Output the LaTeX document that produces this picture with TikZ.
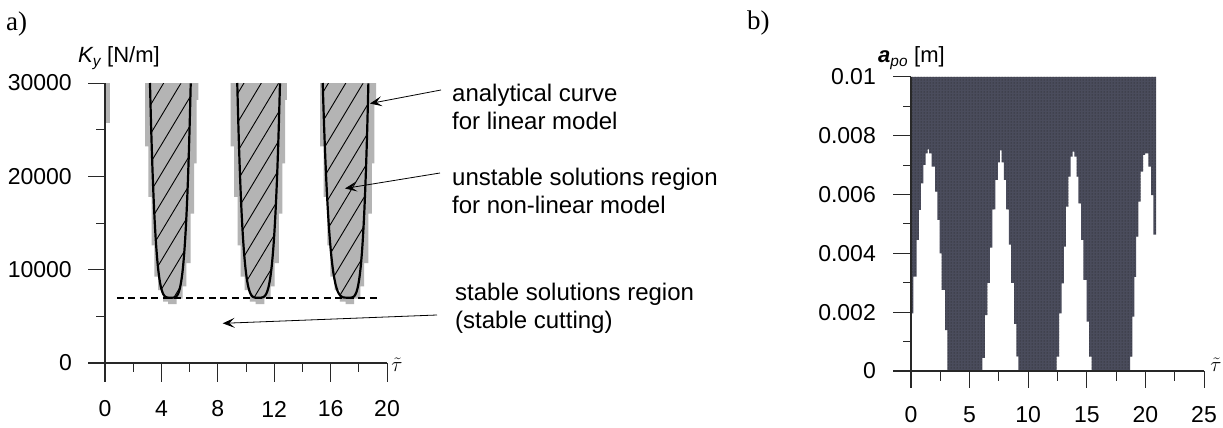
\documentclass[tikz,border=0pt]{standalone}
\usepackage{fontspec}
\setmainfont{Liberation Sans}
\newfontfamily\panelfont{Liberation Serif}
\usetikzlibrary{arrows.meta, patterns, calc}
\definecolor{LobeGrey}{RGB}{180,180,180}
\definecolor{ZoneDark}{RGB}{74,76,92}
\definecolor{DotBlack}{RGB}{30,30,28}
\definecolor{AxisGrey}{RGB}{40,40,40}
\tikzset{
  >=latex,
  % axes
  axline/.style={AxisGrey,line width=1.1pt},
  axtick/.style={AxisGrey,line width=1pt},
  tick label/.style={inner sep=0pt,font=\fontsize{23}{25}\selectfont},
  axis name/.style={inner sep=0pt,anchor=base west,font=\fontsize{22}{24}\selectfont},
  delay name/.style={inner sep=0pt,font=\fontsize{22}{24}\selectfont},
  panel tag/.style={inner sep=0pt,anchor=west,font=\panelfont\fontsize{27}{29}\selectfont},
  % stability chart
  lobe/.style={fill=LobeGrey},
  boundary/.style={black,line width=2.2pt,line join=round},
  hatch/.style={black,line width=0.9pt},
  stab limit/.style={black,line width=2pt,dash pattern=on 7pt off 4.5pt},
  % annotations
  note/.style={inner sep=0pt,align=left,anchor=north west,font=\fontsize{24}{28.3}\selectfont},
  pointer/.style={-{Stealth[length=12pt,width=10pt,inset=5.5pt]},line width=0.8pt}
}
% stepped grey zone round one lobe: vertex, left and right half width
\newcommand{\greylobe}[3]{%
  \fill[lobe] ({#1-#2},30) |- ({#1-0.875*#2},23.2) |- ({#1-0.745*#2},17.8)
    |- ({#1-0.64*#2},12.6) |- ({#1-0.49*#2},9.25) |- ({#1-0.30*#2},7.8)
    |- ({#1-0.10*#2},6.57) |- ({#1+0.21*#3},6.3) |- ({#1+0.43*#3},6.9)
    |- ({#1+0.57*#3},8.2) |- ({#1+0.72*#3},10.7) |- ({#1+0.85*#3},16.0)
    |- ({#1+0.94*#3},21.4) |- ({#1+#3},28.2) -- ({#1+#3},30) -- cycle;}
% analytical lobe with hatching: vertex, half widths, first hatch offset
\newcommand{\unstablelobe}[4]{%
  \begin{scope}
    \clip plot[domain=-1:1,samples=81,smooth]
      ({#1+\x*(#2*(\x<0)+#3*(1-(\x<0)))},{7+23*\x*\x*\x*\x}) -- cycle;
    \foreach \c in {0,...,11}
      \draw[hatch] ({#1-3},{#4+3.1*\c}) -- ++(6,15.1);
  \end{scope}
  \draw[boundary] plot[domain=-1:1,samples=81,smooth]
    ({#1+\x*(#2*(\x<0)+#3*(1-(\x<0)))},{7+23*\x*\x*\x*\x});}

\begin{document}
\begin{tikzpicture}[x=1pt,y=1pt]
  \useasboundingbox (0,0) rectangle (1223,428);
  \fill[white] (0,0) rectangle (1223,428);

  % a) stiffness against delay
  \node[panel tag] (tagA) at (6,404) {a)};
  \node[axis name] (kylab) at (78,365) {{\itshape K\textsubscript{y}} [N/m]};
  \node[delay name] (taua) at (397,63) {$\tilde{\tau}$};
  \begin{scope}[shift={(105,65)},x=14.1pt,y=9.333pt]
    \fill[LobeGrey] (0.07,25.7) rectangle (0.35,30);
    \greylobe{4.66}{1.82}{1.96}
    \greylobe{10.87}{1.96}{2.02}
    \greylobe{17.26}{2.0}{1.96}
    \unstablelobe{4.66}{1.47}{1.42}{-4.2}
    \unstablelobe{10.87}{1.49}{1.54}{-2.9}
    \unstablelobe{17.26}{1.82}{1.42}{-5.0}
    \draw[stab limit] (0.85,7) -- (19.5,7);
    \draw[axline] (-17pt,0) -- (20,0);
    \draw[axline] (0,30) -- (0,-2);
    \foreach \t in {0,4,...,20} {
      \draw[axtick] (\t,0) -- ++(0,-18.7pt);
      \node[tick label] (ta\t) at ([yshift=-46pt]\t,0) {\t};
    }
    \foreach \t in {2,6,...,18}
      \draw[axtick] (\t,0) -- ++(0,-9.3pt);
    \foreach \k/\lab in {0/0,10/10000,20/20000,30/30000} {
      \draw[axtick] (0,\k) -- ++(-17pt,0);
      \node[tick label,anchor=east] (ka\k) at ([xshift=-33pt]0,\k) {\lab};
    }
    \foreach \k in {5,15,25}
      \draw[axtick] (0,\k) -- ++(-9pt,0);
    \coordinate (tipcurve) at (18.79,27.8);
    \coordinate (tipregion) at (17.02,18.7);
    \coordinate (tipstable) at (8.35,4.25);
  \end{scope}

  \node[note] (curvenote) at (452,344) {analytical curve\\for linear model};
  \node[note] (regionnote) at (452,260.5) {unstable solutions region\\for non-linear model};
  \node[note] (stablenote) at (455,145.5) {stable solutions region\\(stable cutting)};
  \draw[pointer] ([xshift=-11pt,yshift=-6pt]curvenote.north west) -- (tipcurve);
  \draw[pointer] ([xshift=-12pt,yshift=-5.5pt]regionnote.north west) -- (tipregion);
  \draw[pointer] ([xshift=-18pt,yshift=-32.5pt]stablenote.north west) -- (tipstable);

  % b) depth of cut against delay
  \node[panel tag] (tagB) at (747,405) {b)};
  \node[axis name] (apolab) at (878,365) {{\bfseries\itshape a}\textsubscript{\itshape po} [m]};
  \node[delay name] (taub) at (1216,63) {$\tilde{\tau}$};
  \begin{scope}[shift={(911,57)},x=11.72pt,y=29.4pt]
    \path[fill=ZoneDark,postaction={pattern=dots,pattern color=DotBlack}]
      (0,10) -- plot[const plot] coordinates {
        (0,1.96) (0.20,3.21) (0.48,4.46) (0.68,5.48) (0.85,6.38) (1.05,7.01)
        (1.25,7.40) (1.42,7.54) (1.54,7.40) (1.76,6.95) (2.05,6.10) (2.25,5.14)
        (2.45,4.00) (2.62,2.76) (2.90,1.39) (3.10,0)
        (6.09,0.45) (6.30,1.9) (6.52,3.0) (6.72,4.2) (6.95,5.5) (7.2,6.5)
        (7.42,7.1) (7.58,7.5) (7.74,7.1) (7.92,6.5) (8.12,5.5) (8.34,4.3)
        (8.55,3.0) (8.80,1.6) (8.98,0.5) (9.16,0)
        (12.43,0.49) (12.63,1.96) (12.86,2.98) (13.05,4.23) (13.22,5.59) (13.42,6.61)
        (13.62,7.29) (13.78,7.46) (13.93,7.29) (14.13,6.61) (14.28,5.70) (14.51,4.46)
        (14.70,3.10) (14.99,1.68) (15.19,0.49) (15.41,0)
        (18.69,0.49) (18.88,1.85) (19.05,3.2) (19.2,4.57) (19.4,5.76) (19.6,6.78)
        (19.8,7.35) (19.97,7.4) (20.25,6.95) (20.48,5.98) (20.68,4.64) (20.92,4.64)}
      -- (20.92,10) -- cycle;
    \draw[axline] (-18pt,0) -- (25,0);
    \draw[axline] (0,10) -- (0,-17pt);
    \foreach \t in {0,5,...,25} {
      \draw[axtick] (\t,0) -- ++(0,-17pt);
      \node[tick label] (tb\t) at ([yshift=-44pt]\t,0) {\t};
    }
    \foreach \t in {2.5,7.5,...,22.5}
      \draw[axtick] (\t,0) -- ++(0,-9.7pt);
    \foreach \a/\lab in {0/0,2/0.002,4/0.004,6/0.006,8/0.008,10/0.01} {
      \draw[axtick] (0,\a) -- ++(-18pt,0);
      \node[tick label,anchor=east] (pb\a) at ([xshift=-35pt]0,\a) {\lab};
    }
    \foreach \a in {1,3,...,9}
      \draw[axtick] (0,\a) -- ++(-8pt,0);
  \end{scope}
\end{tikzpicture}
\end{document}
